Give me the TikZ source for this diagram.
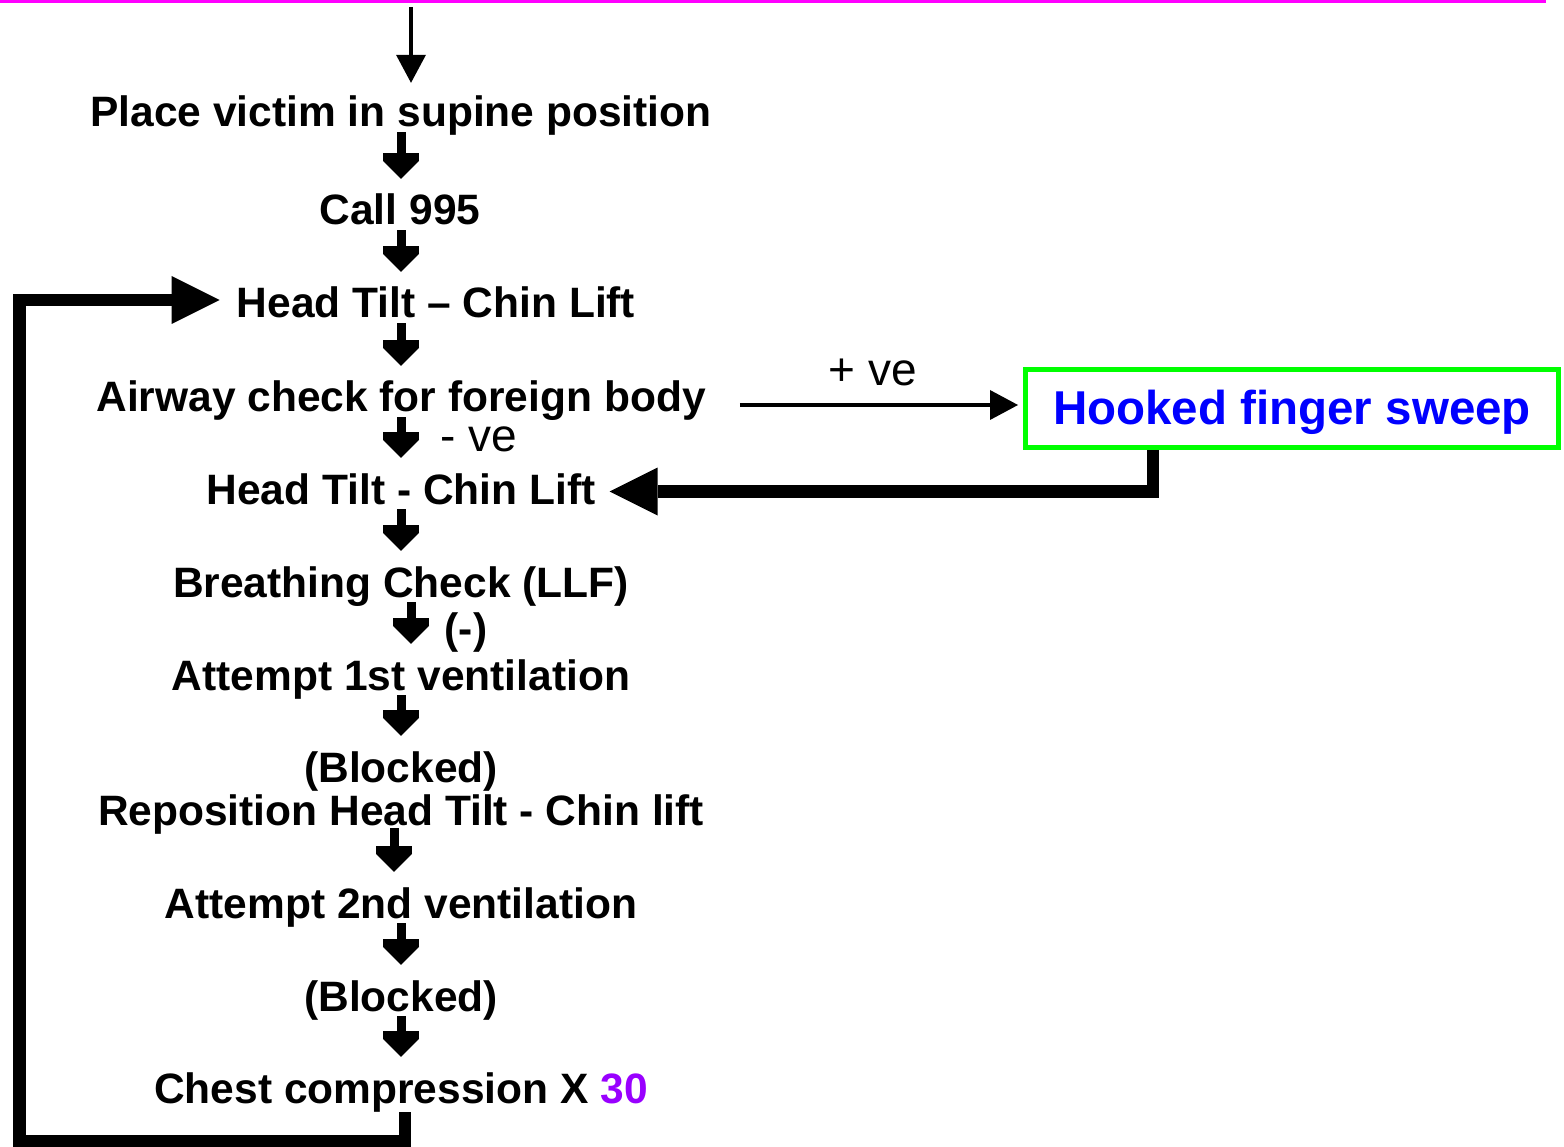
\documentclass[tikz,border=0pt]{standalone}
\usepackage{fontspec}
\setmainfont{Liberation Sans}
\usetikzlibrary{arrows.meta}
\definecolor{magline}{RGB}{255,0,255}
\definecolor{boxgreen}{RGB}{0,255,0}
\definecolor{hookblue}{RGB}{0,0,255}
\definecolor{numpurple}{RGB}{153,0,255}
\begin{document}
\begin{tikzpicture}[x=1pt,y=-1pt,
  stepnode/.style={inner sep=0pt, anchor=base, text height=31pt, text depth=9pt,
    font=\fontsize{42.5}{50}\selectfont\bfseries},
  lbl/.style={inner sep=0pt, anchor=base, font=\fontsize{46}{54}\selectfont},
  blk/.style={line width=9pt, shorten <=-4pt, shorten >=15pt,
    -{Rectangle[length=8pt,width=36pt,line width=0pt,sep=0pt]Triangle[length=18pt,width=36pt,line width=0pt]}},
  bigarr/.style={line width=12.5pt, line join=miter,
    -{Triangle[length=48pt,width=48pt,line width=0pt]}},
  thinarr/.style={line width=4pt, -{Triangle[length=28pt,width=30pt,line width=0pt]}}
]
\useasboundingbox (0,0) rectangle (1564,1147);
\fill[white] (0,0) rectangle (1564,1147);
% top magenta rule
\draw[magline, line width=3.4pt] (0,1.7) -- (1546,1.7);

% steps
\node[stepnode] (p1) at (401,127) {Place victim in supine position};
\node[stepnode] (p2) at (400,225) {Call 995};
\node[stepnode] (p3) at (436,318) {Head Tilt – Chin Lift};
\node[stepnode] (p4) at (401,412) {Airway check for foreign body};
\node[stepnode] (p6) at (401,504) {Head Tilt - Chin Lift};
\node[stepnode] (p7) at (401,597) {Breathing Check (LLF)};
\node[stepnode] (p9) at (401,690) {Attempt 1st ventilation};
\node[stepnode] (p10) at (401,782) {(Blocked)};
\node[stepnode] (p11) at (401,825) {Reposition Head Tilt - Chin lift};
\node[stepnode] (p12) at (401,918) {Attempt 2nd ventilation};
\node[stepnode] (p13) at (401,1011) {(Blocked)};
\node[stepnode] (p14) at (401,1103) {Chest compression X \textcolor{numpurple}{30}};

% hooked finger sweep box
\node[draw=boxgreen, line width=5pt, inner sep=0pt, minimum width=533pt, minimum height=78pt,
  text height=34pt, text depth=1pt, text=hookblue,
  font=\fontsize{47.5}{56}\selectfont\bfseries] (hook) at (1292,408.5) {Hooked finger sweep};

% labels
\node[lbl] (pos) at (873,386) {+ ve};
\node[lbl] (neg) at (479,452) {- ve};
\node[stepnode, text height=, text depth=] (minus) at (466,643) {(-)};

% top arrow
\coordinate (topstart) at (411,7);
\draw[thinarr, shorten >=13pt] (topstart) -- ([xshift=10pt]p1.north);

% block arrows
\draw[blk] (p1.south) -- (p2.north -| p1.south);
\draw[blk] (p2.south -| p1.south) -- (p3.north -| p1.south);
\draw[blk] (p3.south -| p4.north) -- (p4.north);
\draw[blk] (p4.south) -- (p6.north);
\draw[blk] (p6.south) -- (p7.north);
\draw[blk] ([xshift=10pt]p7.south) -- ([xshift=10pt]p9.north);
\draw[blk] (p9.south) -- (p10.north);
\draw[blk, shorten <=-6pt] ([xshift=-7pt]p11.south) -- ([xshift=-7pt]p12.north);
\draw[blk] (p12.south) -- (p13.north);
\draw[blk] (p13.south) -- (p14.north);

% +ve arrow to hooked finger sweep
\draw[thinarr, shorten <=34pt, shorten >=5pt] ([yshift=-4pt]p4.east) -- ([yshift=-4pt]p4.east -| hook.west);

% return from hooked finger sweep
\draw[bigarr, shorten >=14pt] ([xshift=-139pt]hook.south) |- ([yshift=1.5pt]p6.east);

% loop back
\coordinate (lb) at (19.5,1141);
\draw[bigarr, shorten >=17pt] ([xshift=4pt]p14.south) |- (lb) |- ([yshift=7pt]p3.west);
\end{tikzpicture}
\end{document}
